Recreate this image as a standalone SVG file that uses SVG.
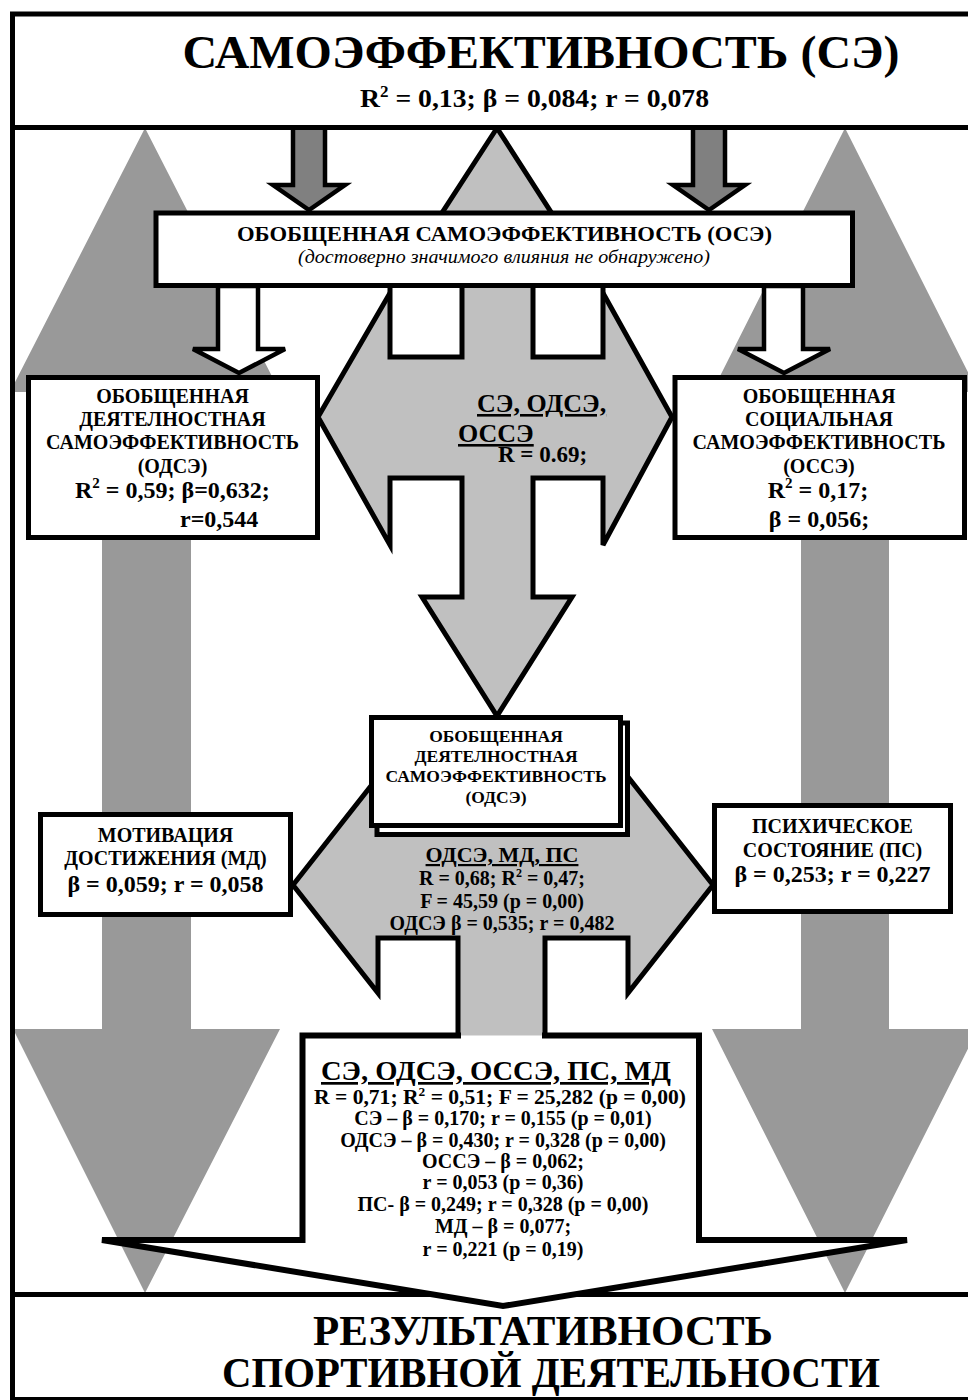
<svg xmlns="http://www.w3.org/2000/svg" width="968" height="1400" viewBox="0 0 968 1400">
<style>
text{font-family:"Liberation Serif","Times New Roman",serif;font-weight:bold;fill:#000}
.c{text-anchor:middle}
.box{fill:#fff;stroke:#000;stroke-width:5}
.big{fill:#999}
.ca{fill:#c0c0c0;stroke:#000;stroke-width:5;stroke-linejoin:miter}
.dk{fill:#808080;stroke:#000;stroke-width:4.5}
.wa{fill:#fff;stroke:#000;stroke-width:4.5}
.ln{fill:none;stroke:#000;stroke-width:5}
.u{text-decoration:underline}
.t20{font-size:20px}
.t24{font-size:24px}
.t17{font-size:17.5px}
</style>
<rect width="968" height="1400" fill="#fff"/>
<g id="connectors">
<polygon class="big" points="145,128 280,392 191,392 191,1029 280,1029 145,1293 13,1029 102,1029 102,392 10,392"/>
<polygon class="big" points="845,128 978,392 889,392 889,1029 978,1029 845,1293 712,1029 801,1029 801,392 712,392"/>
<path class="ca" d="M497,128 L603,293 L672,417 L603,545 L603,478 L533,478 L533,597 L572,597 L497,716 L422,597 L462,597 L462,478 L390,478 L390,545 L318,417 L390,293 Z"/>
<rect x="390" y="280" width="72" height="77" fill="#fff" stroke="#000" stroke-width="5"/>
<rect x="533" y="280" width="70" height="77" fill="#fff" stroke="#000" stroke-width="5"/>
<text x="477" y="412" font-size="26" class="u">СЭ, ОДСЭ,</text>
<text x="458" y="442" font-size="26" class="u">ОССЭ</text>
<text x="498" y="462" font-size="23">R = 0.69;</text>
<polygon class="dk" points="293,127 325,127 325,185 345,185 309,210 273,185 293,185"/>
<polygon class="dk" points="693,127 725,127 725,185 745,185 709,210 673,185 693,185"/>
<polygon class="wa" points="218,286 258,286 258,349 285,349 239,373 193,349 218,349"/>
<polygon class="wa" points="764,286 803,286 803,349 830,349 784,373 738,349 764,349"/>
<path class="ca" d="M293,885 L378,777 L628,777 L713,885 L628,993 L628,938 L545,938 L545,1045 L458,1045 L458,938 L378,938 L378,993 Z"/>
<text class="c u" x="502" y="862" font-size="22">ОДСЭ, МД, ПС</text>
<text class="c t20" x="502" y="885">R = 0,68; R<tspan dy="-8" font-size="12">2</tspan><tspan dy="8"> = 0,47;</tspan></text>
<text class="c t20" x="502" y="908">F = 45,59 (p = 0,00)</text>
<text class="c t20" x="502" y="930">ОДСЭ β = 0,535; r = 0,482</text>
</g>
<g id="frame">
<path class="ln" d="M12.5,127.5 V1294.5"/>
</g>
<g id="node-se">
<rect class="box" x="12.5" y="14" width="965" height="113.5"/>
<text class="c" x="541" y="68" font-size="47" textLength="717" lengthAdjust="spacingAndGlyphs">САМОЭФФЕКТИВНОСТЬ (СЭ)</text>
<text class="c" x="534.5" y="107" font-size="26" textLength="349" lengthAdjust="spacingAndGlyphs">R<tspan dy="-10" font-size="16">2</tspan><tspan dy="10"> = 0,13; β = 0,084; r = 0,078</tspan></text>
</g>
<g id="node-ose">
<rect class="box" x="156" y="213" width="696.5" height="72.5"/>
<text class="c" x="504.5" y="241" font-size="21" textLength="535" lengthAdjust="spacingAndGlyphs">ОБОБЩЕННАЯ САМОЭФФЕКТИВНОСТЬ (ОСЭ)</text>
<text class="c" x="504" y="263" font-size="18" font-style="italic" style="font-weight:normal" textLength="412" lengthAdjust="spacingAndGlyphs">(достоверно значимого влияния не обнаружено)</text>
</g>
<g id="node-odse">
<rect class="box" x="28.5" y="377.5" width="289" height="160"/>
<text class="c t20" x="172.5" y="403">ОБОБЩЕННАЯ</text>
<text class="c t20" x="172.5" y="426">ДЕЯТЕЛНОСТНАЯ</text>
<text class="c t20" x="172.5" y="449">САМОЭФФЕКТИВНОСТЬ</text>
<text class="c t20" x="172.5" y="473">(ОДСЭ)</text>
<text class="t24" x="75" y="498">R<tspan dy="-10" font-size="15">2</tspan><tspan dy="10"> = 0,59; β=0,632;</tspan></text>
<text class="t24" x="180" y="527">r=0,544</text>
</g>
<g id="node-osse">
<rect class="box" x="675" y="377.5" width="289.5" height="160"/>
<text class="c t20" x="819" y="403">ОБОБЩЕННАЯ</text>
<text class="c t20" x="819" y="426">СОЦИАЛЬНАЯ</text>
<text class="c t20" x="819" y="449">САМОЭФФЕКТИВНОСТЬ</text>
<text class="c t20" x="819" y="473">(ОССЭ)</text>
<text class="c t24" x="818" y="498">R<tspan dy="-10" font-size="15">2</tspan><tspan dy="10"> = 0,17;</tspan></text>
<text class="c t24" x="819" y="527">β = 0,056;</text>
</g>
<g id="node-odse2">
<rect class="box" x="377" y="723" width="250.5" height="111.5"/>
<rect class="box" x="371.5" y="717.5" width="249" height="108"/>
<text class="c t17" x="496" y="742">ОБОБЩЕННАЯ</text>
<text class="c t17" x="496" y="762">ДЕЯТЕЛНОСТНАЯ</text>
<text class="c t17" x="496" y="782">САМОЭФФЕКТИВНОСТЬ</text>
<text class="c t17" x="496" y="803">(ОДСЭ)</text>
</g>
<g id="node-md">
<rect class="box" x="40.5" y="814.5" width="250" height="100"/>
<text class="c t20" x="165.5" y="842">МОТИВАЦИЯ</text>
<text class="c t20" x="165.5" y="865">ДОСТИЖЕНИЯ (МД)</text>
<text class="c t24" x="165.5" y="892">β = 0,059; r = 0,058</text>
</g>
<g id="node-ps">
<rect class="box" x="714.5" y="805.5" width="236" height="106"/>
<text class="c t20" x="832.5" y="833">ПСИХИЧЕСКОЕ</text>
<text class="c t20" x="832.5" y="857">СОСТОЯНИЕ (ПС)</text>
<text class="c t24" x="832.5" y="882">β = 0,253; r = 0,227</text>
</g>
<g id="node-result">
<rect class="box" x="12.5" y="1294.5" width="965" height="105"/>
<text class="c" x="543" y="1345" font-size="43" textLength="460" lengthAdjust="spacingAndGlyphs">РЕЗУЛЬТАТИВНОСТЬ</text>
<text class="c" x="551" y="1387" font-size="43" textLength="658" lengthAdjust="spacingAndGlyphs">СПОРТИВНОЙ ДЕЯТЕЛЬНОСТИ</text>
</g>
<g id="node-all">
<path d="M302.5,1035.5 L699,1035.5 L699,1240 L907,1240 L503,1306 L102,1240 L302.5,1240 Z" fill="#fff"/>
<path d="M458,1035.5 L302.5,1035.5 L302.5,1240 L102,1240 L503,1306 L907,1240 L699,1240 L699,1035.5 L545,1035.5" fill="none" stroke="#000" stroke-width="6" stroke-linecap="square"/>
<text class="c u" x="496" y="1080" font-size="27" textLength="350" lengthAdjust="spacingAndGlyphs">СЭ, ОДСЭ, ОССЭ, ПС, МД</text>
<text class="c" x="500" y="1104" font-size="21" textLength="372" lengthAdjust="spacingAndGlyphs">R = 0,71; R<tspan dy="-8" font-size="13">2</tspan><tspan dy="8"> = 0,51; F = 25,282 (p = 0,00)</tspan></text>
<text class="c t20" x="503" y="1125">СЭ – β = 0,170; r = 0,155 (p = 0,01)</text>
<text class="c t20" x="503" y="1147">ОДСЭ – β = 0,430; r = 0,328 (p = 0,00)</text>
<text class="c t20" x="503" y="1168">ОССЭ – β = 0,062;</text>
<text class="c t20" x="503" y="1189">r = 0,053 (p = 0,36)</text>
<text class="c t20" x="503" y="1211">ПС- β = 0,249; r = 0,328 (p = 0,00)</text>
<text class="c t20" x="503" y="1233">МД – β = 0,077;</text>
<text class="c t20" x="503" y="1256">r = 0,221 (p = 0,19)</text>
</g>
</svg>
